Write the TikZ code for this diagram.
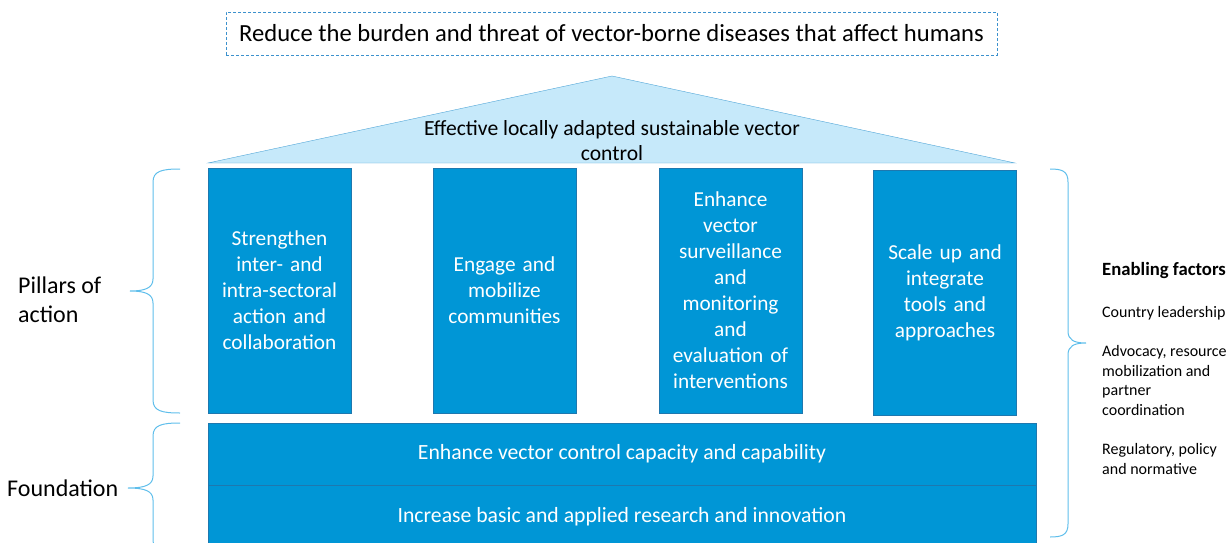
\documentclass[tikz,border=0pt]{standalone}
\usepackage{fontspec}
\setmainfont{Carlito}
\usepackage{tikz}

\definecolor{pillarblue}{RGB}{0,150,214}
\definecolor{pillaredge}{RGB}{30,120,175}
\definecolor{roofblue}{RGB}{198,233,250}
\definecolor{roofedge}{RGB}{80,165,215}
\definecolor{bracecol}{RGB}{95,190,235}
\definecolor{goaledge}{RGB}{60,145,205}

\begin{document}
\begin{tikzpicture}[x=1pt,y=-1pt]
  \tikzset{pillar/.style = {draw=pillaredge,fill=pillarblue,text=white,minimum width=143pt,minimum height=245pt,inner sep=0pt,text width=140pt,align=center,font=\fontsize{21.3}{26}\selectfont}}
  \tikzset{base/.style = {draw=pillaredge,fill=pillarblue,text=white,minimum width=828pt,inner sep=0pt,font=\fontsize{21.7}{26}\selectfont}}
  \tikzset{brace/.style = {draw=bracecol,line width=1pt}}
  \tikzset{side/.style = {inner sep=0pt,anchor=west,align=left,font=\fontsize{24}{29}\selectfont}}
  \tikzset{factor/.style = {inner sep=0pt,anchor=west,align=left,font=\fontsize{16}{19.5}\selectfont}}

  \useasboundingbox (0,0) rectangle (1231,543);
  \clip (0,0) rectangle (1231,543);

  % goal on top
  \node[draw=goaledge,densely dashed,minimum width=771pt,minimum height=43pt,inner sep=0pt,font=\fontsize{24.6}{29}\selectfont] (goal) at (611.5,33.5) {Reduce the burden and threat of vector-borne diseases that affect humans};

  % roof
  \draw[fill=roofblue,draw=roofedge] (208,163) -- (612,76) -- (1015,163) -- cycle;
  \node[inner sep=0pt,align=center,font=\fontsize{21.6}{25}\selectfont] (roof) at (612,141) {Effective locally adapted sustainable vector\\control};

  % pillars
	\node[pillar] (P1) at (279.5,290.5) {Strengthen\\inter- and\\intra-sectoral\\action and\\collaboration};
	\node[pillar] (P2) at (504.5,290.5) {Engage and\\mobilize\\communities};
	\node[pillar] (P3) at (730.5,290.5) {Enhance\\vector\\surveillance\\and\\monitoring\\and\\evaluation of\\interventions};
	\node[pillar] (P4) at (945,292.5) {Scale up and\\integrate\\tools and\\approaches};

  % foundation
	\node[base,minimum height=62pt] (F1) at (622,454) {\raisebox{-2pt}{Enhance vector control capacity and capability}};
	\node[base,minimum height=63pt] (F2) at (622,516.5) {\raisebox{-1pt}{Increase basic and applied research and innovation}};

  % braces
  \draw[brace] (180,169) .. controls (162,169) and (153,171) .. (153,182) -- (153,279) .. controls (153,288) and (145,291) .. (130,291) .. controls (145,291) and (153,294) .. (153,303) -- (153,400) .. controls (153,411) and (162,413) .. (180,413);
  \draw[brace] (180,423) .. controls (162,423) and (153,425) .. (153,436) -- (153,476) .. controls (153,485) and (145,488) .. (128,488) .. controls (145,488) and (153,491) .. (153,500) -- (153,540) .. controls (153,551) and (162,553) .. (180,553);
  \draw[brace] (1050,169) .. controls (1062,169) and (1068,171) .. (1068,182) -- (1068,331) .. controls (1068,340) and (1074,343) .. (1086,343) .. controls (1074,343) and (1068,346) .. (1068,355) -- (1068,524) .. controls (1068,535) and (1062,537) .. (1050,537);

  % labels
	\node[side] (pillars) at (18,299.5) {Pillars of\\action};
	\node[side] (found) at (7,488) {Foundation};

	\node[factor,font=\fontsize{18.7}{22}\selectfont\bfseries] (enab) at (1102,271) {Enabling factors};
	\node[factor] (lead) at (1102,313) {Country leadership};
	\node[factor] (advo) at (1102,380.5) {Advocacy, resource\\mobilization and\\partner\\coordination};
	\node[factor] (regu) at (1102,459) {Regulatory, policy\\and normative};
\end{tikzpicture}
\end{document}
